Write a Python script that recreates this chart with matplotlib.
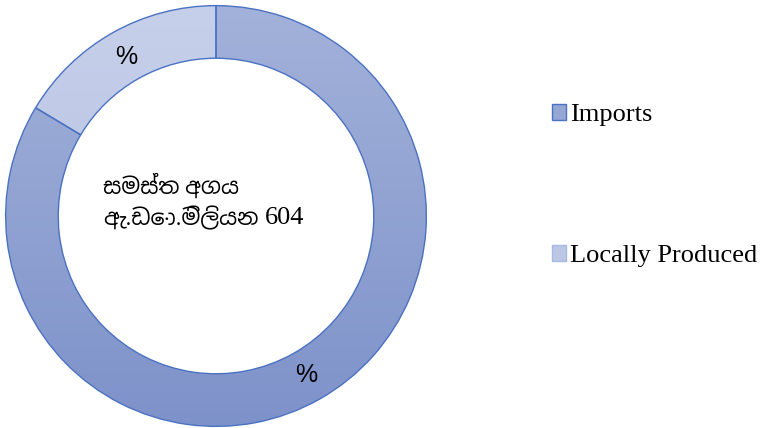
import matplotlib
matplotlib.use("Agg")
import matplotlib.pyplot as plt
import numpy as np
from matplotlib.colors import LinearSegmentedColormap
from matplotlib.patches import Patch

# data
labels = ['Imports', 'Locally Produced']
shares = [83.6, 16.4]
slice_text = ['%', '%']
center_line1 = 'සමස්ත අගය'
center_line2 = 'ඇ.ඩො.මිලියන'
total_value = '604'

# top -> bottom gradient colours for each slice
grads = [('#A3B2DA', '#7E92CA'), ('#C7D0EA', '#AEBCE0')]
edge = '#4A72C2'

fig = plt.figure(figsize=(7.61, 4.28), dpi=100)
W, H = 761, 428
cx, cy, R = 216, 212, 211
ax = fig.add_axes([(cx - R) / W, (cy - R) / H, 2 * R / W, 2 * R / H])

wedges, texts = ax.pie(shares, labels=slice_text, startangle=90, counterclock=False,
                       radius=1, labeldistance=0.87,
                       wedgeprops=dict(width=0.25, edgecolor=edge, linewidth=1.0),
                       textprops=dict(fontsize=18, family='Liberation Sans'))
for t in texts:
    t.set_ha('center')
    t.set_va('center')

yy = np.linspace(1, 0, 256).reshape(-1, 1)
for w, (c1, c2) in zip(wedges, grads):
    cmap = LinearSegmentedColormap.from_list('g', [c2, c1])
    im = ax.imshow(yy, cmap=cmap, extent=(-1, 1, -1, 1), aspect='auto', zorder=0.5,
                   vmin=0, vmax=1)
    im.set_clip_path(w)
    w.set_facecolor('none')
    w.set_zorder(1)

ax.set_xlim(-1.003, 1.003)
ax.set_ylim(-1.003, 1.003)
ax.set_aspect('equal')
ax.axis('off')

# centre text
fam = ['Liberation Serif', 'Noto Sans Sinhala']
fig.text(103 / W, 1 - 186 / H, center_line1, fontsize=16, family=fam, va='center', ha='left')
t2 = fig.text(103 / W, 1 - 218 / H, center_line2, fontsize=16, family=fam,
              va='center', ha='left')
bb = t2.get_window_extent(renderer=fig.canvas.get_renderer())
fig.text((bb.x1 + 6) / W, 1 - 218 / H, total_value, fontsize=19,
         family='Liberation Serif', va='center', ha='left')

# legend
handles = [Patch(facecolor='#95A7D4', edgecolor=edge, linewidth=1.0),
           Patch(facecolor='#BCC7E6', edgecolor='#A8B8E0', linewidth=1.0)]
fig.legend(handles, labels, loc='upper left', bbox_to_anchor=(552 / W, 1 - 104 / H),
           frameon=False, prop=dict(family='Liberation Serif', size=19),
           handlelength=0.54, handleheight=0.54, handletextpad=0.13,
           labelspacing=4.5, borderpad=0, borderaxespad=0)

fig.savefig('out.png', dpi=100)
